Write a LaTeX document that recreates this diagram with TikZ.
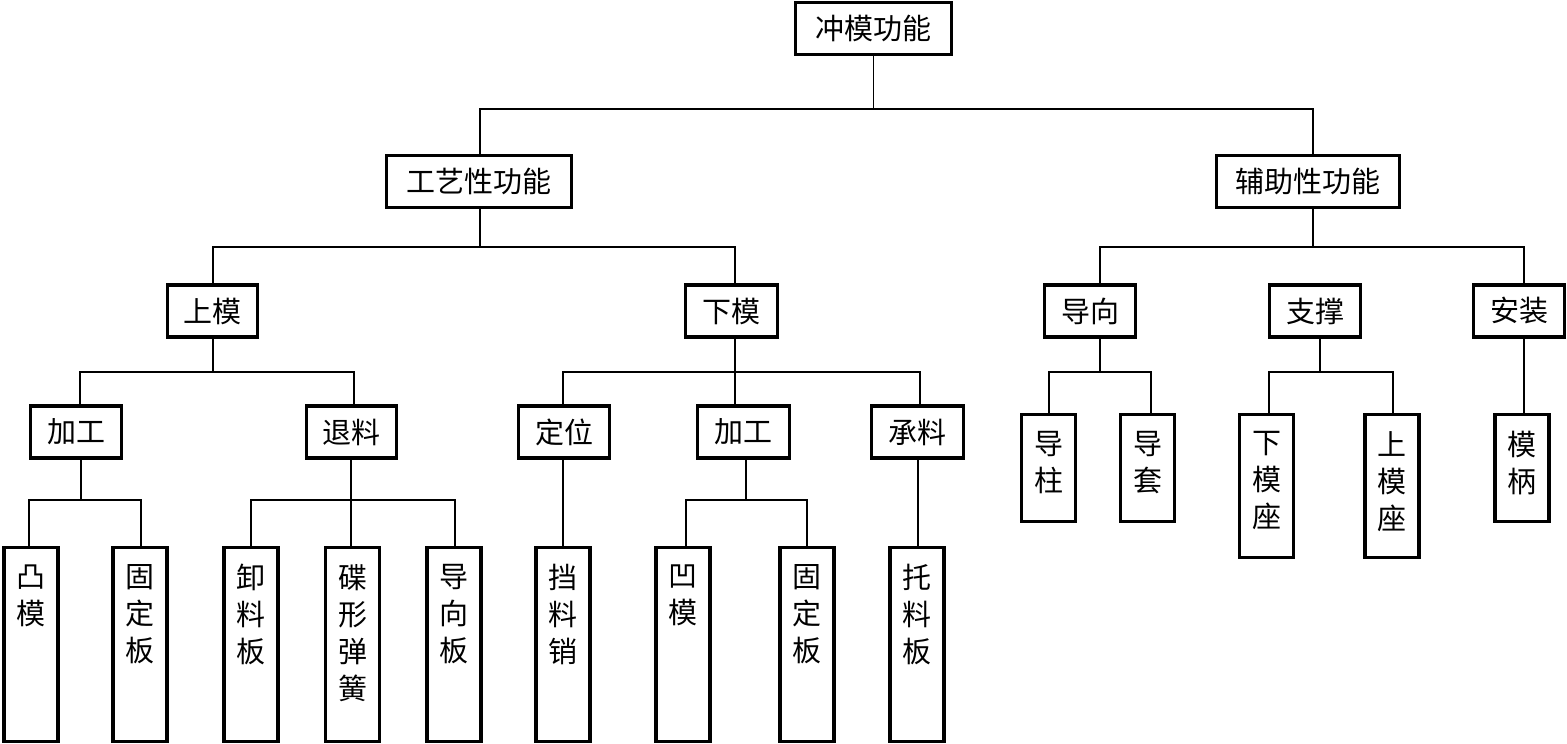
\documentclass[tikz,border=0pt]{standalone}
\usepackage{fontspec}
\newfontfamily\cjk{Noto Sans CJK SC}
\begin{document}
\begin{tikzpicture}[x=1pt,y=-1pt,
  box/.style={draw, line width=3.2pt, fill=white, inner sep=0pt, font=\cjk\fontsize{29}{29}\selectfont},
  hbox/.style={box, minimum height=52pt, minimum width=#1},
  vlabel/.style={anchor=north, yshift=-15pt, align=center, font=\cjk\fontsize{29}{37}\selectfont},
  vbox/.style={box, minimum width=54pt, label={[vlabel]north:{#1}}},
  conn/.style={line width=1.6pt}]
\useasboundingbox (0,0) rectangle (1567,744);
% connectors (drawn first, boxes cover their ends)
\begin{scope}
\end{scope}
% level 0
\node[hbox=156] (root) at (873.5,28.5) {冲模功能};
% level 1
\node[hbox=185] (gy) at (479,181.5) {工艺性功能};
\node[hbox=183] (fz) at (1308,181.5) {辅助性功能};
% level 2
\node[hbox=90] (sm) at (212.5,311) {上模};
\node[hbox=92] (xm) at (731.5,311) {下模};
\node[hbox=91] (dx) at (1090,311) {导向};
\node[hbox=91] (zc) at (1315,311) {支撑};
\node[hbox=91] (az) at (1519,311) {安装};
% level 3
\node[hbox=91] (jg1) at (76,432) {加工};
\node[hbox=90] (tl) at (351.5,432) {退料};
\node[hbox=91] (dw) at (564,432) {定位};
\node[hbox=92] (jg2) at (743.5,432) {加工};
\node[hbox=92] (cl) at (917.5,432) {承料};
% level 4, left
\node[vbox={凸\\模}, minimum height=194pt] (tm) at (31,644.5) {};
\node[vbox={固\\定\\板}, minimum height=194pt] (gd1) at (140,644.5) {};
\node[vbox={卸\\料\\板}, minimum height=194pt] (xl) at (251,644.5) {};
\node[vbox={碟\\形\\弹\\簧}, minimum height=194pt] (dt) at (352.5,644.5) {};
\node[vbox={导\\向\\板}, minimum height=194pt] (dxb) at (454,644.5) {};
\node[vbox={挡\\料\\销}, minimum height=194pt] (dls) at (563,644.5) {};
\node[vbox={凹\\模}, minimum height=194pt] (am) at (683,644.5) {};
\node[vbox={固\\定\\板}, minimum height=194pt] (gd2) at (807,644.5) {};
\node[vbox={托\\料\\板}, minimum height=194pt] (tlb) at (917,644.5) {};
% level 3, right
\node[vbox={导\\柱}, minimum height=107pt] (dz) at (1048.5,468) {};
\node[vbox={导\\套}, minimum height=107pt] (dt2) at (1147.5,468) {};
\node[vbox={下\\模\\座}, minimum height=143pt] (xmz) at (1266.5,486) {};
\node[vbox={上\\模\\座}, minimum height=143pt] (smz) at (1392,486) {};
\node[vbox={模\\柄}, minimum height=107pt] (mb) at (1522,468) {};
% connectors
\draw[conn] (root.south) -- (root.south |- 0,109) -| ([xshift=1pt]gy.north);
\draw[conn] (root.south |- 0,109) -| ([xshift=5pt]fz.north);
\draw[conn] ([xshift=1pt]gy.south) -- ([xshift=1pt]gy.south |- 0,247) -| ([xshift=0.5pt]sm.north);
\draw[conn] ([xshift=1pt]gy.south |- 0,247) -| ([xshift=3.5pt]xm.north);
\draw[conn] ([xshift=5pt]fz.south) -- ([xshift=5pt]fz.south |- 0,247) -| ([xshift=10pt]dx.north);
\draw[conn] ([xshift=5pt]fz.south |- 0,247) -| ([xshift=5pt]az.north);
\draw[conn] ([xshift=0.5pt]sm.south) -- ([xshift=0.5pt]sm.south |- 0,372) -| ([xshift=4pt]jg1.north);
\draw[conn] ([xshift=0.5pt]sm.south |- 0,372) -| ([xshift=2.5pt]tl.north);
\draw[conn] ([xshift=3.5pt]xm.south) -- ([xshift=-8.5pt]jg2.north);
\draw[conn] ([xshift=3.5pt]xm.south |- 0,372) -| ([xshift=-1pt]dw.north);
\draw[conn] ([xshift=3.5pt]xm.south |- 0,372) -| ([xshift=2.5pt]cl.north);
\draw[conn] ([xshift=5pt]jg1.south) -- ([xshift=5pt]jg1.south |- 0,500) -| ([xshift=-2pt]tm.north);
\draw[conn] ([xshift=5pt]jg1.south |- 0,500) -| ([xshift=1pt]gd1.north);
\draw[conn] ([xshift=-0.5pt]tl.south) -- ([xshift=-1.5pt]dt.north);
\draw[conn] ([xshift=-0.5pt]tl.south |- 0,500) -| (xl.north);
\draw[conn] ([xshift=-0.5pt]tl.south |- 0,500) -| ([xshift=1pt]dxb.north);
\draw[conn] ([xshift=-1pt]dw.south) -- (dls.north);
\draw[conn] ([xshift=2.5pt]jg2.south) -- ([xshift=2.5pt]jg2.south |- 0,500) -| ([xshift=3pt]am.north);
\draw[conn] ([xshift=2.5pt]jg2.south |- 0,500) -| (gd2.north);
\draw[conn] ([xshift=0.5pt]cl.south) -- ([xshift=1pt]tlb.north);
\draw[conn] ([xshift=10pt]dx.south) -- ([xshift=10pt]dx.south |- 0,372) -| ([xshift=0.5pt]dz.north);
\draw[conn] ([xshift=10pt]dx.south |- 0,372) -| ([xshift=3.5pt]dt2.north);
\draw[conn] ([xshift=5pt]zc.south) -- ([xshift=5pt]zc.south |- 0,372) -| ([xshift=2.5pt]xmz.north);
\draw[conn] ([xshift=5pt]zc.south |- 0,372) -| ([xshift=1pt]smz.north);
\draw[conn] ([xshift=5pt]az.south) -- ([xshift=2pt]mb.north);
\end{tikzpicture}
\end{document}
